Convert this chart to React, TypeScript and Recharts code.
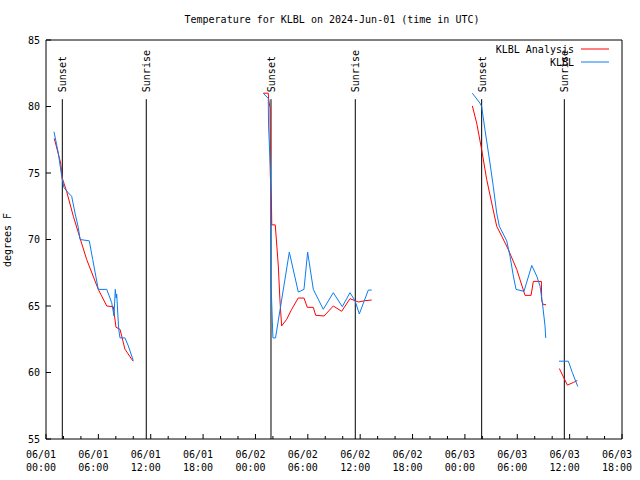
import { LineChart, Line, XAxis, YAxis, ReferenceLine } from 'recharts';

// Temperature for KLBL, hours since 2024-06-01 00:00 UTC (null = gap)
const analysisHours = [
  0.95, 1.68, 1.87, 2.37, 3.13, 3.9, 4.66, 5.99, 6.96, 7.71, 8.02, 8.48, 9.05, 9.82, 10.0,
  18,
  24.9, 25.47, 25.5, 25.67, 25.7, 25.84, 25.87, 26.27, 26.62, 26.8, 27.0, 27.58, 28.15, 28.9,
  29.56, 29.94, 30.63, 30.9, 31.86, 32.92, 33.88, 34.83, 35.79, 36.55, 37.32,
  43,
  48.85, 49.35, 49.92, 50.5, 51.07, 51.64, 52.22, 52.97, 53.94, 54.89, 55.58, 55.84, 56.76,
  56.8, 56.99, 57.3,
  58,
  58.82, 59.74, 60.42, 60.88,
];
const analysisTemps = [
  77.6, 75.75, 74.6, 73.6, 71.75, 70.1, 68.5, 66.25, 65.0, 64.95, 63.4, 63.25, 61.75, 61.0, 60.85,
  null,
  81.0, 81.0, 80.6, 79.9, 74.9, 72.5, 71.1, 71.1, 68.0, 65.5, 63.5, 64.0, 64.75, 65.6,
  65.6, 64.9, 64.9, 64.3, 64.25, 65.0, 64.6, 65.55, 65.3, 65.4, 65.45,
  null,
  80.05, 78.75, 76.75, 74.5, 72.75, 71.0, 70.25, 69.25, 67.75, 65.8, 65.8, 66.85, 66.85,
  65.4, 65.1, 65.1,
  null,
  60.3, 59.05, 59.25, 59.4,
];

const klblHours = [
  0.92, 1.41, 1.8, 2.06, 2.56, 2.94, 3.32, 3.7, 3.9, 4.96, 5.35, 5.99, 6.96, 7.53, 7.79, 7.94,
  8.04, 8.1, 8.33, 8.48, 9.05, 9.43, 10.0,
  18,
  24.9, 25.47, 25.5, 25.73, 25.78, 26.0, 26.3, 27.88, 28.91, 29.56, 29.98, 30.63, 31.77, 32.92,
  33.95, 34.83, 35.41, 35.9, 36.93, 37.32,
  43,
  48.85, 49.73, 49.92, 50.3, 50.87, 51.25, 51.64, 51.94, 52.79, 53.17, 53.55, 53.86, 54.77,
  55.66, 56.23, 56.61, 56.92, 57.18, 57.26,
  58,
  58.78, 59.85, 60.31, 60.93,
];
const klblTemps = [
  78.1, 76.5, 74.75, 73.9, 73.5, 73.25, 72.0, 70.9, 70.0, 69.9, 68.5, 66.25, 66.25, 65.25, 64.25, 66.25,
  65.6, 65.9, 63.25, 62.6, 62.6, 62.0, 60.9,
  null,
  81.0, 80.6, 78.6, 75.0, 66.8, 62.6, 62.6, 69.05, 66.05, 66.25, 69.05, 66.25, 64.75, 66.0,
  64.95, 66.0, 65.4, 64.4, 66.2, 66.2,
  null,
  81.0, 80.25, 80.0, 78.25, 75.75, 74.0, 72.0, 71.0, 69.9, 68.75, 67.25, 66.25, 66.1,
  68.05, 67.25, 66.5, 65.0, 63.5, 62.6,
  null,
  60.85, 60.85, 60.0, 58.95,
];

const eventHours = [1.87, 11.49, 25.78, 35.44, 49.92, 59.39];
const eventNames = ['Sunset', 'Sunrise', 'Sunset', 'Sunrise', 'Sunset', 'Sunrise'];

const xTicks = [0, 2, 4, 6, 8, 10, 12, 14, 16, 18, 20, 22, 24, 26, 28, 30, 32, 34, 36, 38, 40, 42, 44, 46, 48, 50, 52, 54, 56, 58, 60, 62, 64, 66];
const xTickDates = ['06/01', '06/01', '06/01', '06/01', '06/02', '06/02', '06/02', '06/02', '06/03', '06/03', '06/03', '06/03'];
const xTickTimes = ['00:00', '06:00', '12:00', '18:00', '00:00', '06:00', '12:00', '18:00', '00:00', '06:00', '12:00', '18:00'];
const yTicks = [55, 60, 65, 70, 75, 80, 85];

const FONT = '"DejaVu Sans Mono", monospace';
const RED = '#ff0000';
const BLUE = '#0a7cf2';

const toRows = (hours: number[], temps: (number | null)[]) =>
  hours.map((h, i) => ({ h, t: temps[i] }));

const analysisData = toRows(analysisHours, analysisTemps);
const klblData = toRows(klblHours, klblTemps);

function BottomTick({ x, y, payload }: any) {
  const v = payload.value;
  const major = v % 6 === 0;
  const i = v / 6;
  return (
    <g>
      <line x1={x} y1={y} x2={x} y2={y - (major ? 5 : 3)} stroke="#000" />
      {major && (
        <>
          <text x={x - 5} y={y + 18.5} textAnchor="middle" fontFamily={FONT} fontSize={10} fill="#000">
            {xTickDates[i]}
          </text>
          <text x={x - 5} y={y + 31.5} textAnchor="middle" fontFamily={FONT} fontSize={10} fill="#000">
            {xTickTimes[i]}
          </text>
        </>
      )}
    </g>
  );
}

function TopTick({ x, y, payload }: any) {
  const major = payload.value % 6 === 0;
  return <line x1={x} y1={y} x2={x} y2={y + (major ? 5 : 3)} stroke="#000" />;
}

function LeftTick({ x, y, payload }: any) {
  return (
    <g>
      <line x1={x} y1={y} x2={x + 5} y2={y} stroke="#000" />
      <text x={x - 6} y={y + 3.5} textAnchor="end" fontFamily={FONT} fontSize={10} fill="#000">
        {payload.value}
      </text>
    </g>
  );
}

function RightTick({ x, y }: any) {
  return <line x1={x} y1={y} x2={x - 5} y2={y} stroke="#000" />;
}

const eventLabel = (name: string) => (props: any) => {
  const vb = props.viewBox || {};
  const lx = vb.x + 4;
  const ly = vb.y - 7;
  return (
    <text
      x={lx}
      y={ly}
      transform={`rotate(-90, ${lx}, ${ly})`}
      textAnchor="start"
      fontFamily={FONT}
      fontSize={10}
      fill="#000"
    >
      {name}
    </text>
  );
};

export default function App() {
  return (
    <div style={{ position: 'absolute', left: 0, top: 0, width: 640, height: 480, background: '#fff' }}>
      <LineChart width={640} height={480} margin={{ top: 10, right: 8, bottom: 10, left: 6 }}>
        <XAxis
          dataKey="h"
          type="number"
          domain={[0, 66]}
          ticks={xTicks}
          interval={0}
          height={31}
          tickSize={0}
          tickMargin={0}
          tickLine={false}
          axisLine={{ stroke: '#000' }}
          tick={<BottomTick />}
        />
        <XAxis
          xAxisId="top"
          orientation="top"
          dataKey="h"
          type="number"
          domain={[0, 66]}
          ticks={xTicks}
          interval={0}
          height={30}
          tickSize={0}
          tickMargin={0}
          tickLine={false}
          axisLine={{ stroke: '#000' }}
          tick={<TopTick />}
        />
        <YAxis
          type="number"
          domain={[55, 85]}
          ticks={yTicks}
          interval={0}
          width={40}
          tickSize={0}
          tickMargin={0}
          tickLine={false}
          axisLine={{ stroke: '#000' }}
          tick={<LeftTick />}
        />
        <YAxis
          yAxisId="right"
          orientation="right"
          type="number"
          domain={[55, 85]}
          ticks={yTicks}
          interval={0}
          width={10}
          tickSize={0}
          tickMargin={0}
          tickLine={false}
          axisLine={{ stroke: '#000' }}
          tick={<RightTick />}
        />
        {eventHours.map((h, i) => (
          <ReferenceLine
            key={i}
            segment={[{ x: h, y: 55 }, { x: h, y: 80.55 }]}
            stroke="#000"
            strokeWidth={1}
            label={eventLabel(eventNames[i])}
          />
        ))}
        <Line
          data={analysisData}
          dataKey="t"
          type="linear"
          stroke={RED}
          strokeWidth={1}
          dot={false}
          activeDot={false}
          connectNulls={false}
          isAnimationActive={false}
        />
        <Line
          data={klblData}
          dataKey="t"
          type="linear"
          stroke={BLUE}
          strokeWidth={1}
          dot={false}
          activeDot={false}
          connectNulls={false}
          isAnimationActive={false}
        />
      </LineChart>
      <svg
        width={640}
        height={480}
        style={{ position: 'absolute', left: 0, top: 0, pointerEvents: 'none' }}
      >
        <text x={332} y={22.5} textAnchor="middle" fontFamily={FONT} fontSize={10} fill="#000">
          Temperature for KLBL on 2024-Jun-01 (time in UTC)
        </text>
        <text
          x={11}
          y={240}
          transform="rotate(-90, 11, 240)"
          textAnchor="middle"
          fontFamily={FONT}
          fontSize={10}
          fill="#000"
        >
          degrees F
        </text>
        <text x={574} y={52.5} textAnchor="end" fontFamily={FONT} fontSize={10} fill="#000">
          KLBL Analysis
        </text>
        <line x1={581} y1={49} x2={609} y2={49} stroke={RED} />
        <text x={574} y={65.5} textAnchor="end" fontFamily={FONT} fontSize={10} fill="#000">
          KLBL
        </text>
        <line x1={581} y1={62} x2={609} y2={62} stroke={BLUE} />
      </svg>
    </div>
  );
}
